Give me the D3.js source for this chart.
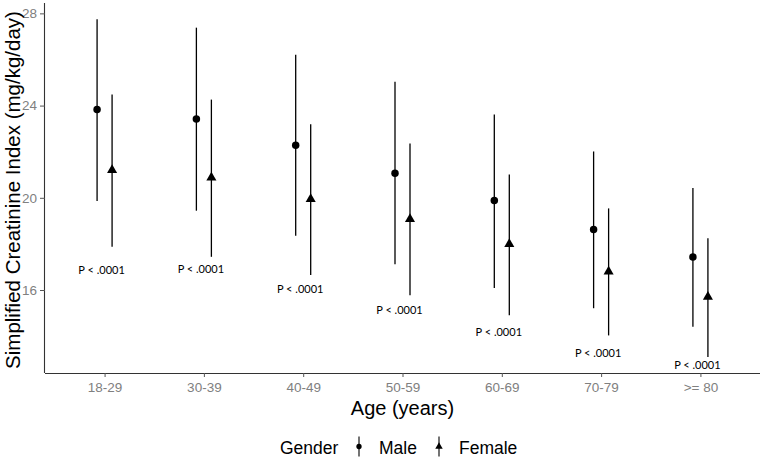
<!DOCTYPE html>
<html><head><meta charset="utf-8">
<script src="https://cdn.jsdelivr.net/npm/d3@7"></script>
<style>body{margin:0;background:#fff}svg{display:block}</style>
</head><body>
<svg id="c" width="760" height="458"></svg>
<script>
const ageGroups = ["18-29","30-39","40-49","50-59","60-69","70-79",">= 80"];
const maleMean  = [23.83,23.42,22.28,21.06,19.88,18.62,17.43];
const maleLow   = [19.86,19.44,18.35,17.12,16.09,15.21,14.41];
const maleHigh  = [27.74,27.38,26.21,25.03,23.61,22.01,20.43];
const femaleMean= [21.20,20.88,19.94,19.08,17.99,16.80,15.70];
const femaleLow = [17.88,17.44,16.65,15.77,14.90,14.03,13.09];
const femaleHigh= [24.48,24.26,23.19,22.35,21.01,19.54,18.24];
const pLabels   = ["P < .0001","P < .0001","P < .0001","P < .0001","P < .0001","P < .0001","P < .0001"];
const pLabelY   = [16.87,16.91,16.04,15.12,14.19,13.28,12.74];
const yTicks    = [16,20,24,28];
const genders   = ["Male","Female"];

const svg = d3.select("#c");
const L = 45, R = 760, T = 3, B = 373;
const x = d3.scalePoint().domain(ageGroups).range([L, R]).padding(0.6);
const y = d3.scaleLinear().domain([12.40, 28.45]).range([B, T]);
const dodge = {Male: -7.5, Female: 7.5};

const series = [];
ageGroups.forEach((g,i)=>{
  series.push({g, gender:"Male", m:maleMean[i], lo:maleLow[i], hi:maleHigh[i]});
  series.push({g, gender:"Female", m:femaleMean[i], lo:femaleLow[i], hi:femaleHigh[i]});
});

const circle = d3.symbol().type(d3.symbolCircle).size(44);
const tri = d3.symbol().type(d3.symbolTriangle).size(44);
const circleKey = d3.symbol().type(d3.symbolCircle).size(22);
const triKey = d3.symbol().type(d3.symbolTriangle).size(24);

// axes
const gx = svg.append("g").attr("transform",`translate(0,${B})`)
  .call(d3.axisBottom(x).tickSizeOuter(0).tickSize(4).tickPadding(5));
gx.select(".domain").attr("stroke","#333").attr("stroke-width",1.1).attr("d",`M${L},0.5H${R}`);
gx.selectAll(".tick line").attr("stroke","#555");
gx.selectAll(".tick text").attr("fill","#808080").attr("font-family","Liberation Sans, Arial, sans-serif").attr("font-size","13.5px");

const gy = svg.append("g").attr("transform",`translate(${L},0)`)
  .call(d3.axisLeft(y).tickValues(yTicks).tickSizeOuter(0).tickSize(5).tickPadding(3));
gy.select(".domain").attr("stroke","#333").attr("stroke-width",1.1).attr("d",`M-0.5,${T}V${B}`);
gy.selectAll(".tick line").attr("stroke","#555");
gy.selectAll(".tick text").attr("fill","#808080").attr("font-family","Liberation Sans, Arial, sans-serif").attr("font-size","13.5px");

// error bars
const marks = svg.append("g");
marks.selectAll("line.err").data(series).join("line")
  .attr("x1",d=>x(d.g)+dodge[d.gender]).attr("x2",d=>x(d.g)+dodge[d.gender])
  .attr("y1",d=>y(d.lo)).attr("y2",d=>y(d.hi))
  .attr("stroke","#000").attr("stroke-width",1.3);
marks.selectAll("path.pt").data(series).join("path")
  .attr("d",d=>d.gender==="Male"?circle():tri())
  .attr("transform",d=>`translate(${x(d.g)+dodge[d.gender]},${y(d.m)})`)
  .attr("fill","#000");

// p labels
svg.append("g").selectAll("text").data(ageGroups).join("text")
  .attr("x",(d)=>x(d)-3).attr("y",(d,i)=>y(pLabelY[i]))
  .attr("dy","0.35em").attr("text-anchor","middle")
  .attr("font-family","Lato, 'Open Sans', sans-serif").attr("font-size","11px").attr("fill","#000")
  .text((d,i)=>pLabels[i]);

// titles
svg.append("text").attr("x",(L+R)/2).attr("y",415).attr("text-anchor","middle")
  .attr("font-family","Liberation Sans, Arial, sans-serif").attr("font-size","20px").attr("fill","#000")
  .text("Age (years)");
svg.append("text").attr("transform",`translate(19.5,${(T+B)/2+2}) rotate(-90)`).attr("text-anchor","middle")
  .attr("font-family","Liberation Sans, Arial, sans-serif").attr("font-size","20.5px").attr("fill","#000")
  .text("Simplified Creatinine Index (mg/kg/day)");

// legend
const lg = svg.append("g").attr("font-family","Liberation Sans, Arial, sans-serif").attr("font-size","17.5px");
lg.append("text").attr("x",280).attr("y",454).text("Gender");
const keyX = {Male:359, Female:439};
const keyTx = {Male:379, Female:459};
genders.forEach(gname=>{
  lg.append("line").attr("x1",keyX[gname]).attr("x2",keyX[gname]).attr("y1",436.5).attr("y2",456.5)
    .attr("stroke","#000").attr("stroke-width",1.1);
  lg.append("path").attr("d",gname==="Male"?circleKey():triKey()).attr("transform",`translate(${keyX[gname]},446.5)`).attr("fill","#000");
  lg.append("text").attr("x",keyTx[gname]).attr("y",454).text(gname);
});
</script>
</body></html>
